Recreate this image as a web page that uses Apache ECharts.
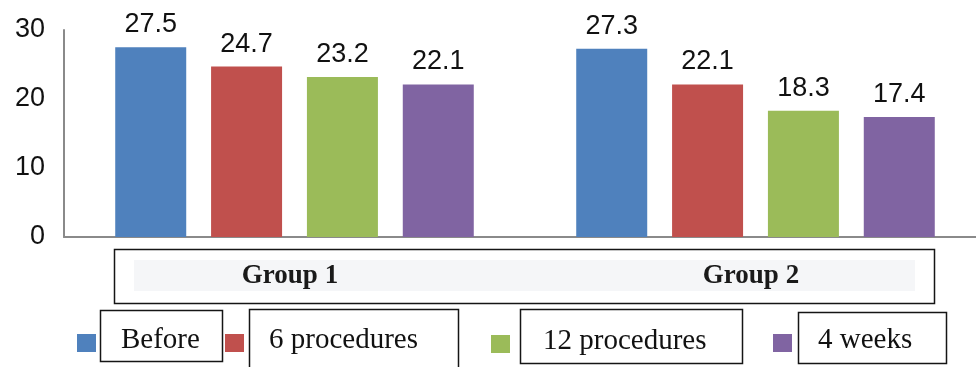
<!DOCTYPE html>
<html>
<head>
<meta charset="utf-8">
<style>
  html, body { margin: 0; padding: 0; background: #ffffff; }
  #chart { width: 976px; height: 367px; }
</style>
<script src="https://cdn.jsdelivr.net/npm/echarts@6/dist/echarts.min.js"></script>
</head>
<body>
<div id="chart"></div>
<script>
// Categories on the x axis
var groups = ['Group 1', 'Group 2'];

// Series (one per measurement time)
var seriesNames = ['Before', '6 procedures', '12 procedures', '4 weeks'];
var beforeValues = [27.5, 27.3];
var sixProcValues = [24.7, 22.1];
var twelveProcValues = [23.2, 18.3];
var fourWeeksValues = [22.1, 17.4];

// Value axis settings
var yMin = 0;
var yMax = 30;
var yStep = 10;

var colors = ['#4F81BD', '#C0504D', '#9BBB59', '#8064A2'];
var seriesValues = [beforeValues, sixProcValues, twelveProcValues, fourWeeksValues];

var chart = echarts.init(document.getElementById('chart'), null, { renderer: 'canvas' });

var sansFont = '"Liberation Sans", Arial, sans-serif';
var serifFont = '"Liberation Serif", "Times New Roman", serif';

var series = seriesNames.map(function (name, i) {
  return {
    name: name,
    type: 'bar',
    data: seriesValues[i],
    barWidth: 71,
    barGap: '35%',
    itemStyle: { color: colors[i] },
    label: {
      show: true,
      position: 'top',
      distance: 9,
      color: '#111',
      fontFamily: sansFont,
      fontSize: 27
    },
    emphasis: { disabled: true }
  };
});

// Legend marker: a 19x18 square sitting 5px below the top of its slot,
// so the label (centred on the slot) lines up slightly above the square's middle.
// The tiny first sub-path only extends the bounding box upward.
var markerIcon = 'path://M0 -5h0.01v0.01h-0.01Z M0 0H19V18H0Z';

// One legend block per series so each entry sits at its own spot
var legendLayout = [
  { left: 77, top: 326, pad: 20 },
  { left: 225, top: 326, pad: 20 },
  { left: 491, top: 327, pad: 28 },
  { left: 773, top: 326, pad: 21 }
];
var legends = seriesNames.map(function (name, i) {
  return {
    data: [name],
    left: legendLayout[i].left,
    top: legendLayout[i].top,
    padding: 0,
    itemWidth: 19,
    itemHeight: 23,
    icon: markerIcon,
    selectedMode: false,
    textStyle: {
      fontFamily: serifFont,
      fontSize: 29,
      color: '#111',
      padding: [0, 0, 0, legendLayout[i].pad]
    }
  };
});

// Frames around the category band and the legend labels
var boxStroke = { stroke: '#151515', lineWidth: 1.5, fill: null };
var frames = [
  { x: 114, y: 249, w: 820, h: 54 },
  { x: 100, y: 310, w: 122, h: 51 },
  { x: 249, y: 309, w: 209, h: 70 },
  { x: 520, y: 309, w: 222, h: 54 },
  { x: 798, y: 312, w: 148, h: 51 }
];
var graphics = [{
  type: 'rect',
  z: -1,
  shape: { x: 134, y: 260, width: 781, height: 31 },
  style: { fill: '#f5f6f8' }
}].concat(frames.map(function (f) {
  return {
    type: 'rect',
    z: 10,
    shape: { x: f.x + 0.5, y: f.y + 0.5, width: f.w, height: f.h },
    style: boxStroke
  };
}));

chart.setOption({
  backgroundColor: '#ffffff',
  animation: false,
  grid: {
    left: 64, top: 30, width: 922, bottom: 130,
    containLabel: false,
    outerBoundsMode: 'none'
  },
  xAxis: {
    type: 'category',
    data: groups,
    axisLine: { show: true, lineStyle: { color: '#8a8a8a', width: 2 } },
    axisTick: { show: false },
    axisLabel: {
      margin: 26,
      padding: [0, 9, 0, 0],
      color: '#1a1a1a',
      fontFamily: serifFont,
      fontWeight: 'bold',
      fontSize: 27
    }
  },
  yAxis: {
    type: 'value',
    min: yMin,
    max: yMax,
    interval: yStep,
    splitLine: { show: false },
    axisLine: { show: true, lineStyle: { color: '#8a8a8a', width: 2 } },
    axisTick: { show: false },
    axisLabel: {
      margin: 19,
      color: '#111',
      fontFamily: sansFont,
      fontSize: 27
    }
  },
  legend: legends,
  graphic: graphics,
  series: series
});
</script>
</body>
</html>
